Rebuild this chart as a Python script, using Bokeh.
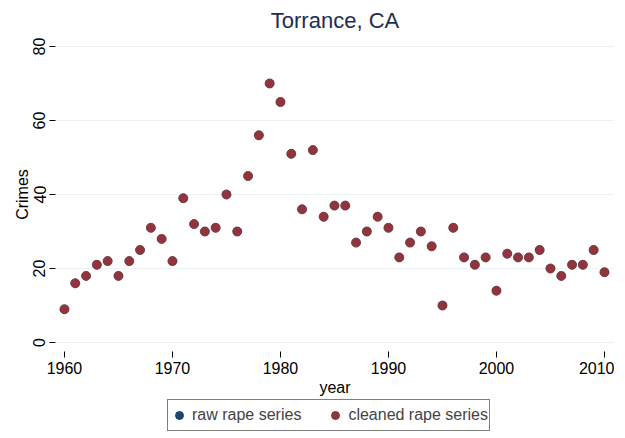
from bokeh.plotting import figure
from bokeh.layouts import column
from bokeh.models import ColumnDataSource, Legend, LegendItem, FixedTicker, Range1d
from bokeh.embed import file_html
from bokeh.resources import INLINE

years = list(range(1960, 2011))
raw_rape = [9, 16, 18, 21, 22, 18, 22, 25, 31, 28,
            22, 39, 32, 30, 31, 40, 30, 45, 56, 70,
            65, 51, 36, 52, 34, 37, 37, 27, 30, 34,
            31, 23, 27, 30, 26, 10, 31, 23, 21, 23,
            14, 24, 23, 23, 25, 20, 18, 21, 21, 25,
            19]
cleaned_rape = [9, 16, 18, 21, 22, 18, 22, 25, 31, 28,
                22, 39, 32, 30, 31, 40, 30, 45, 56, 70,
                65, 51, 36, 52, 34, 37, 37, 27, 30, 34,
                31, 23, 27, 30, 26, 10, 31, 23, 21, 23,
                14, 24, 23, 23, 25, 20, 18, 21, 21, 25,
                19]
x_ticks = [1960, 1970, 1980, 1990, 2000, 2010]
y_ticks = [0, 20, 40, 60, 80]

FONT = "Liberation Sans"
RAW_COLOR = "#1a476f"
CLEAN_COLOR = "#90353b"

p = figure(frame_width=559, frame_height=314, output_backend="svg", toolbar_location=None,
           x_range=Range1d(1959.17, 2010.93), y_range=Range1d(-2.43, 82.43),
           min_border_left=55, min_border_right=0, min_border_top=0, min_border_bottom=4)

p.title.text = "Torrance, CA"
p.title.align = "center"
p.title.text_font = FONT
p.title.text_font_size = "22px"
p.title.text_font_style = "normal"
p.title.text_color = "#1e2d53"

src = ColumnDataSource(dict(year=years, raw=raw_rape, cleaned=cleaned_rape))
p.scatter("year", "raw", source=src, size=9, fill_color=RAW_COLOR,
          line_color=RAW_COLOR, line_width=0.5)
p.scatter("year", "cleaned", source=src, size=9, fill_color=CLEAN_COLOR,
          line_color=CLEAN_COLOR, line_width=0.5)

p.outline_line_color = None
p.xgrid.grid_line_color = None
p.ygrid.grid_line_color = "#eaf2f3"
p.ygrid.grid_line_width = 1.2

p.xaxis.ticker = FixedTicker(ticks=x_ticks)
p.yaxis.ticker = FixedTicker(ticks=y_ticks)
for ax in (p.xaxis[0], p.yaxis[0]):
    ax.axis_line_color = None
    ax.major_tick_line_color = "black"
    ax.major_tick_in = 0
    ax.major_tick_out = 6
    ax.minor_tick_line_color = None
    ax.major_label_text_font = FONT
    ax.major_label_text_font_size = "16px"
    ax.major_label_text_color = "black"
    ax.axis_label_text_font = FONT
    ax.axis_label_text_font_size = "16px"
    ax.axis_label_text_font_style = "normal"
    ax.axis_label_text_color = "black"
    ax.major_label_standoff = 4
p.yaxis.major_label_orientation = "vertical"
p.xaxis.axis_label = "year"
p.yaxis.axis_label = "Crimes"
p.xaxis.axis_label_standoff = 2
p.yaxis.axis_label_standoff = 0

# legend strip below the chart
q = figure(frame_width=559, frame_height=34, output_backend="svg", toolbar_location=None,
           x_range=Range1d(0, 1), y_range=Range1d(0, 1),
           min_border_left=55, min_border_right=0, min_border_top=0, min_border_bottom=0)
q.axis.visible = False
q.grid.grid_line_color = None
q.outline_line_color = None
lr_raw = q.scatter(x=[-10], y=[-10], size=9, fill_color=RAW_COLOR, line_color=RAW_COLOR)
lr_clean = q.scatter(x=[-10], y=[-10], size=9, fill_color=CLEAN_COLOR, line_color=CLEAN_COLOR)

legend = Legend(items=[LegendItem(label="raw rape series", renderers=[lr_raw]),
                       LegendItem(label="cleaned rape series", renderers=[lr_clean])],
                orientation="horizontal", location=(112, 1))
legend.border_line_color = "black"
legend.border_line_width = 1
legend.label_text_font = FONT
legend.label_text_font_size = "16px"
legend.glyph_width = 20
legend.glyph_height = 28
legend.label_height = 28
legend.label_standoff = 3
legend.spacing = 24
legend.padding = 1
legend.margin = 0
q.add_layout(legend, "center")

layout = column(p, q, spacing=0)
open("out.html", "w").write(file_html(layout, INLINE))
